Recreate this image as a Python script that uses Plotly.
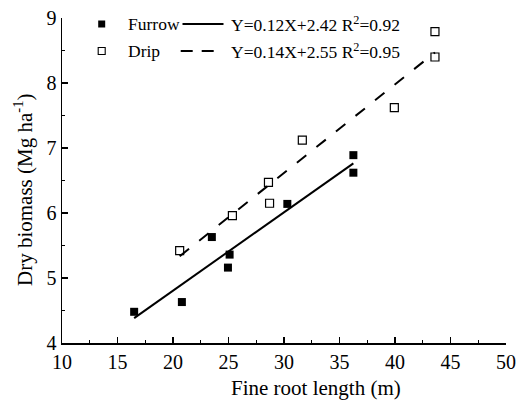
import numpy as np
import plotly.graph_objects as go

# Data
furrow_x = [16.5, 20.8, 23.5, 25.1, 24.95, 30.3, 36.25, 36.25]
furrow_y = [4.48, 4.63, 5.63, 5.36, 5.16, 6.14, 6.89, 6.62]
drip_x = [20.6, 25.35, 28.7, 28.6, 31.65, 39.94, 43.6, 43.6]
drip_y = [5.42, 5.96, 6.15, 6.47, 7.12, 7.62, 8.40, 8.79]
series_names = ["Furrow", "Drip"]
equations = ["Y=0.12X+2.42 R<sup>2</sup>=0.92", "Y=0.14X+2.55 R<sup>2</sup>=0.95"]
x_ticks = [10, 15, 20, 25, 30, 35, 40, 45, 50]
y_ticks = [4, 5, 6, 7, 8, 9]

FONT = "Liberation Serif"
W, H = 520, 402
ML, MR, MT, MB = 62, 14, 18, 59
PW, PH = W - ML - MR, H - MT - MB


def px_x(p):
    return (p - ML) / PW


def px_y(p):
    return (H - MB - p) / PH


def fit_line(xs, ys):
    k, b = np.polyfit(xs, ys, 1)
    xx = np.array([min(xs), max(xs)])
    return xx, k * xx + b


fx, fy = fit_line(furrow_x, furrow_y)
dx, dy = fit_line(drip_x, drip_y)

fig = go.Figure()
fig.add_trace(go.Scatter(x=fx, y=fy, mode="lines", name=equations[0],
                         line=dict(color="black", width=2)))
fig.add_trace(go.Scatter(x=dx, y=dy, mode="lines", name=equations[1],
                         line=dict(color="black", width=2, dash="12px,13px")))
fig.add_trace(go.Scatter(x=furrow_x, y=furrow_y, mode="markers", name=series_names[0],
                         marker=dict(symbol="square", size=8, color="black",
                                     line=dict(width=0))))
fig.add_trace(go.Scatter(x=drip_x, y=drip_y, mode="markers", name=series_names[1],
                         marker=dict(symbol="square-open", size=8, color="black",
                                     line=dict(width=1.2))))

axis_common = dict(
    showline=True, linecolor="black", linewidth=1.5, mirror=False,
    ticks="inside", ticklen=6, tickwidth=1.2, tickcolor="black",
    showgrid=False, zeroline=False,
    tickfont=dict(family=FONT, size=20, color="black"),
)
fig.update_xaxes(range=[10, 50], tickvals=x_ticks,
                 minor=dict(ticks="inside", dtick=2.5, ticklen=3, tickcolor="black", tickwidth=1),
                 **axis_common)
fig.update_yaxes(range=[4, 9], tickvals=y_ticks,
                 minor=dict(ticks="inside", dtick=0.5, ticklen=3, tickcolor="black", tickwidth=1),
                 **axis_common)

# Custom legend (marker, name, line sample, equation) as in the reference
legend_font = dict(family=FONT, size=17.5, color="black")
rows_y = [24, 51]
shapes = []
annotations = []
for i, (name, eq) in enumerate(zip(series_names, equations)):
    yy = px_y(rows_y[i])
    filled = i == 0
    shapes.append(dict(type="rect", xref="paper", yref="paper",
                       xsizemode="pixel", ysizemode="pixel",
                       xanchor=px_x(101.7), yanchor=yy,
                       x0=-3.5, x1=3.5, y0=-3.5, y1=3.5,
                       fillcolor="black" if filled else "white",
                       line=dict(color="black", width=0 if filled else 1.1)))
    shapes.append(dict(type="line", xref="paper", yref="paper",
                       xsizemode="pixel", ysizemode="pixel",
                       xanchor=px_x(182.5 if filled else 180.7), yanchor=yy,
                       x0=0, x1=41 if filled else 33, y0=0, y1=0,
                       line=dict(color="black", width=2,
                                 dash="solid" if filled else "12px,9px")))
    annotations.append(dict(text=name, xref="paper", yref="paper",
                            x=px_x(125.5), y=yy, xanchor="left", yanchor="middle",
                            showarrow=False, font=legend_font))
    annotations.append(dict(text=eq, xref="paper", yref="paper",
                            x=px_x(229), y=yy, xanchor="left", yanchor="middle",
                            showarrow=False, font=legend_font))

annotations += [
    dict(text="Fine root length (m)", xref="paper", yref="paper",
         x=px_x(316), y=px_y(388), xanchor="center", yanchor="middle",
         showarrow=False, font=dict(family=FONT, size=21, color="black")),
    dict(text="Dry biomass (Mg ha<sup>-1</sup>)", xref="paper", yref="paper",
         x=px_x(24), y=px_y(190), xanchor="center", yanchor="middle",
         textangle=-90, showarrow=False,
         font=dict(family=FONT, size=21, color="black")),
]

fig.update_layout(
    width=W, height=H,
    margin=dict(l=ML, r=MR, t=MT, b=MB, autoexpand=False),
    paper_bgcolor="white", plot_bgcolor="white",
    showlegend=False,
    hovermode=False,
    shapes=shapes,
    annotations=annotations,
)

fig.write_html("out.html",
               config={"displayModeBar": False, "staticPlot": True},
               post_script="document.body.style.margin='0';document.body.style.overflow='hidden';")
